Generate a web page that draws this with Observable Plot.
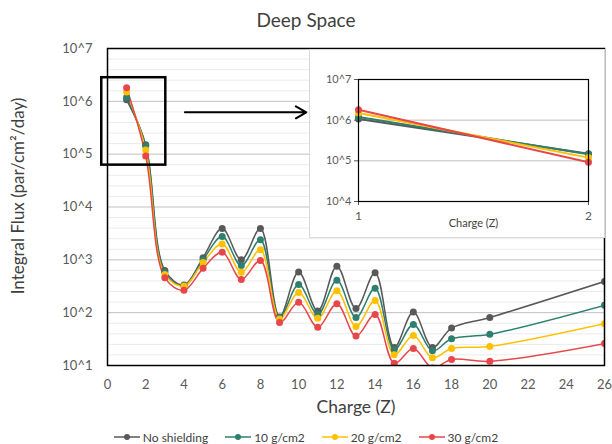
<!DOCTYPE html>
<html><head><meta charset="utf-8">
<script src="https://cdn.jsdelivr.net/npm/d3@7"></script>
<script src="https://cdn.jsdelivr.net/npm/@observablehq/plot@0.6"></script>
<style>
body{margin:0;background:#fff;font-family:Lato,"Open Sans",sans-serif;}
#wrap{position:relative;width:612px;height:444px;overflow:hidden;background:#fff}
#title{position:absolute;left:0;top:8px;width:612px;text-align:center;font-size:19px;line-height:24px;color:#404040}
#main{position:absolute;left:0;top:36px}
#inset{position:absolute;left:309px;top:49px;width:294px;height:187px;border:1px solid #d9d9d9;background:#fff}
#legend{position:absolute;left:0;top:427px;width:612px;height:20px;display:flex;justify-content:center;align-items:center;gap:17px;font-size:12px;color:#404040}
.item{display:flex;align-items:center;gap:3px}
</style>
</head><body>
<div id="wrap">
  <div id="title">Deep Space</div>
  <div id="main"></div>
  <div id="inset"></div>
  <div id="legend"></div>
</div>
<script>
const charges = [1,2,3,4,5,6,7,8,9,10,11,12,13,14,15,16,17,18,20,26];
const seriesNames = ["No shielding","10 g/cm2","20 g/cm2","30 g/cm2"];
const seriesColors = ["#595959","#2e7f6f","#ffc000","#e8474a"];
const noShielding = [1.07e6,1.5e5,630,335,1100,3900,1000,3900,83,590,107,760,120,570,22,103,22,51,81,390];
const g10 = [1.2e6,1.45e5,580,320,1000,2750,780,2400,80,340,93,410,81,290,20,60,19,32,39,138];
const g20 = [1.5e6,1.2e5,530,320,890,2000,580,1550,76,240,78,260,55,170,16,37,14,21,23,62];
const g30 = [1.8e6,9.2e4,460,265,690,1390,425,970,65,158,53,148,36,92,11,21,9,13,12,26];
const xTicks = [0,2,4,6,8,10,12,14,16,18,20,22,24,26];
const yTicks = [1e1,1e2,1e3,1e4,1e5,1e6,1e7];
const insetYTicks = [1e4,1e5,1e6,1e7];
const insetXTicks = [1,2];
// annotation (data units): zoom box and arrow
const zoomBox = [{x1:-0.3,x2:3.05,y1:6.2e4,y2:2.8e6}];
const zoomArrow = [{x1:4.05,x2:10.4,y1:6.2e5,y2:6.2e5}];

const allValues = [noShielding,g10,g20,g30];
const rows = allValues.flatMap((vals,k)=>charges.map((z,i)=>({z, v:vals[i], s:seriesNames[k]})));
const insetRows = rows.filter(d=>d.z<=2);
// minor gridlines: 4 evenly spaced (in log) between decades
const minor = [];
for (let e=1;e<7;e++) for (let k=1;k<5;k++) minor.push(Math.pow(10,e+k*0.2));
const powFmt = d => "10^" + Math.round(Math.log10(d));

const main = Plot.plot({
  width:612, height:386, marginTop:12, marginBottom:57, marginLeft:107, marginRight:8,
  style:{fontFamily:"Lato, 'Open Sans', sans-serif", fontSize:"12px", color:"#595959", background:"transparent", overflow:"visible"},
  x:{domain:[0,26]},
  y:{type:"log", domain:[10,1e7]},
  color:{domain:seriesNames, range:seriesColors},
  marks:[
    Plot.ruleY(minor,{stroke:"#ebebeb"}),
    Plot.ruleY(yTicks,{stroke:"#bfbfbf"}),
    Plot.axisX({ticks:xTicks, tickSize:0, tickPadding:14, label:null, fontSize:13}),
    Plot.axisY({ticks:yTicks, tickSize:0, tickPadding:15, tickFormat:powFmt, label:null, fontSize:13}),
    Plot.line(rows,{x:"z", y:"v", stroke:"s", curve:"catmull-rom", strokeWidth:1.5, clip:true}),
    Plot.dot(rows,{x:"z", y:"v", fill:"s", r:3.5, clip:true}),
    Plot.frame({stroke:"#000", strokeWidth:1.5}),
    Plot.rect(zoomBox,{x1:"x1", x2:"x2", y1:"y1", y2:"y2", stroke:"#000", strokeWidth:2.5, fill:"none"}),
    Plot.arrow(zoomArrow,{x1:"x1", y1:"y1", x2:"x2", y2:"y2", bend:0, stroke:"#000", strokeWidth:2, headLength:9}),
    Plot.text(["Charge (Z)"],{frameAnchor:"bottom", dy:47, fontSize:17.5, fill:"#404040"}),
    Plot.text(["Integral Flux (par/cm²/day)"],{frameAnchor:"left", textAnchor:"middle", dx:-89, dy:-11, rotate:-90, fontSize:17, fill:"#404040"})
  ]
});
document.getElementById("main").append(main);

const inset = Plot.plot({
  width:294, height:187, marginLeft:48, marginRight:16, marginTop:29, marginBottom:36,
  style:{fontFamily:"Lato, 'Open Sans', sans-serif", fontSize:"11px", color:"#595959", background:"#fff"},
  x:{domain:[1,2]},
  y:{type:"log", domain:[1e4,1e7]},
  color:{domain:seriesNames, range:seriesColors},
  marks:[
    Plot.ruleY([1e5,1e6],{stroke:"#bfbfbf"}),
    Plot.axisX({ticks:insetXTicks, tickSize:4, tickPadding:6, tickFormat:"d", label:null, fontSize:12}),
    Plot.axisY({ticks:insetYTicks, tickSize:4, tickPadding:3, tickFormat:powFmt, label:null, fontSize:11}),
    Plot.line(insetRows,{x:"z", y:"v", stroke:"s", strokeWidth:2}),
    Plot.dot(insetRows,{x:"z", y:"v", fill:"s", r:3.5}),
    Plot.frame({stroke:"#000", strokeWidth:1.2}),
    Plot.text(["Charge (Z)"],{frameAnchor:"bottom", dy:25, fontSize:11, fill:"#404040"})
  ]
});
document.getElementById("inset").append(inset);

const legend = document.getElementById("legend");
seriesNames.forEach((n,i)=>{
  const item = document.createElement("div");
  item.className = "item";
  item.innerHTML = `<svg width="26" height="10"><line x1="0" x2="26" y1="5" y2="5" stroke="${seriesColors[i]}" stroke-width="1.5"/><circle cx="13" cy="5" r="3" fill="${seriesColors[i]}"/></svg><span>${n}</span>`;
  legend.append(item);
});
</script>
</body></html>
